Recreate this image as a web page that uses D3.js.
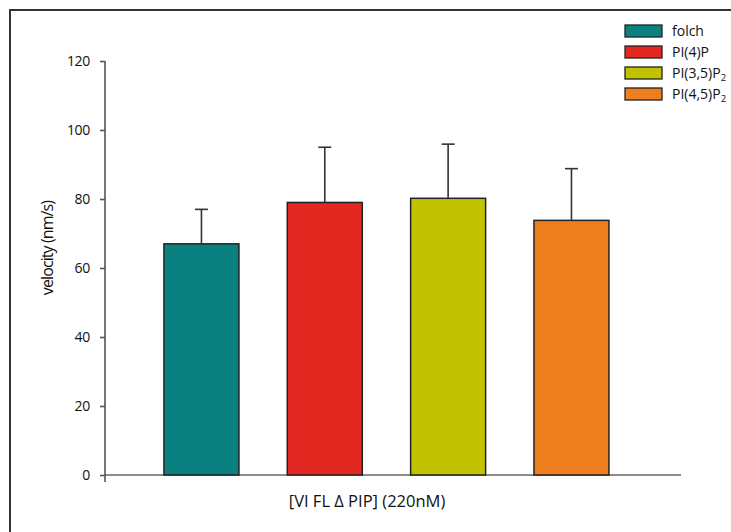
<!DOCTYPE html>
<html>
<head>
<meta charset="utf-8">
<script src="https://cdn.jsdelivr.net/npm/d3@7"></script>
<style>
  html, body { margin: 0; padding: 0; background: #fff; }
  svg { display: block; font-family: "Open Sans", Lato, sans-serif; }
</style>
</head>
<body>
<svg id="chart" width="731" height="532"></svg>
<script>
// Mean velocity per lipid condition, with upper SD error bars
const categories = ["folch", "PI(4)P", "PI(3,5)P2", "PI(4,5)P2"];
const means = [67, 79, 80.2, 73.8];
const errors = [10, 16, 15.7, 15];
const colors = ["#0b8080", "#e32822", "#c1c200", "#ef7f1e"];
const yTicks = [0, 20, 40, 60, 80, 100, 120];

const svg = d3.select("#chart");

// outer frame (top and left edges)
svg.append("path")
  .attr("d", "M10,532 L10,10 L731,10")
  .attr("fill", "none").attr("stroke", "#333").attr("stroke-width", 2);

const x0 = 105, x1 = 681;
const y = d3.scaleLinear().domain([0, 120]).range([475, 61]);
const x = d3.scaleBand().domain(categories).range([x0, x1])
  .paddingInner(0.392).paddingOuter(0.531).align(0.45);

// y axis
const yAxis = d3.axisLeft(y).tickValues(yTicks).tickSize(5).tickPadding(10);
const gy = svg.append("g").attr("transform", `translate(${x0},0)`).call(yAxis);
gy.select(".domain").remove();
gy.append("line").attr("x1", 0).attr("x2", 0)
  .attr("y1", y(120)).attr("y2", y(0) + 7)
  .attr("stroke", "#555").attr("stroke-width", 1.6);
gy.selectAll(".tick line").attr("stroke", "#555").attr("stroke-width", 1.6);
gy.selectAll(".tick text").attr("fill", "#111")
  .style("font-family", "'Open Sans', sans-serif").style("font-size", "14px")
  .style("letter-spacing", "-0.3px");

// x axis baseline
svg.append("line").attr("x1", x0).attr("x2", x1)
  .attr("y1", y(0)).attr("y2", y(0))
  .attr("stroke", "#666").attr("stroke-width", 1.6);

// bars
svg.append("g").selectAll("rect").data(categories).join("rect")
  .attr("x", d => x(d))
  .attr("width", x.bandwidth())
  .attr("y", (d, i) => y(means[i]))
  .attr("height", (d, i) => y(0) - y(means[i]))
  .attr("fill", (d, i) => colors[i])
  .attr("stroke", "#222").attr("stroke-width", 1.5);

// error bars (upper only)
const eb = svg.append("g").attr("stroke", "#333").attr("stroke-width", 1.6);
categories.forEach((c, i) => {
  const cx = x(c) + x.bandwidth() / 2;
  eb.append("line").attr("x1", cx).attr("x2", cx)
    .attr("y1", y(means[i])).attr("y2", y(means[i] + errors[i]));
  eb.append("line").attr("x1", cx - 6.5).attr("x2", cx + 6.5)
    .attr("y1", y(means[i] + errors[i])).attr("y2", y(means[i] + errors[i]));
});

// axis titles
svg.append("text")
  .attr("transform", "translate(53,248) rotate(-90)")
  .attr("text-anchor", "middle").attr("fill", "#111")
  .style("font-size", "16px").style("letter-spacing", "-0.9px")
  .text("velocity (nm/s)");

svg.append("text")
  .attr("x", 367).attr("y", 507)
  .attr("text-anchor", "middle").attr("fill", "#111")
  .style("font-size", "16.5px")
  .text("[VI FL \u0394 PIP] (220nM)");

// legend
const legend = svg.append("g").attr("transform", "translate(625,25)");
categories.forEach((c, i) => {
  const g = legend.append("g").attr("transform", `translate(0,${i * 21})`);
  g.append("rect").attr("width", 37).attr("height", 12)
    .attr("fill", colors[i]).attr("stroke", "#222").attr("stroke-width", 1.3);
  const t = g.append("text").attr("x", 47).attr("y", 11)
    .attr("fill", "#111").style("font-size", "14px");
  const m = c.match(/^(.*P)(\d)$/);
  if (m) {
    t.append("tspan").text(m[1]);
    t.append("tspan").attr("dy", 3).style("font-size", "9.5px").text(m[2]);
  } else {
    t.text(c);
  }
});
</script>
</body>
</html>
